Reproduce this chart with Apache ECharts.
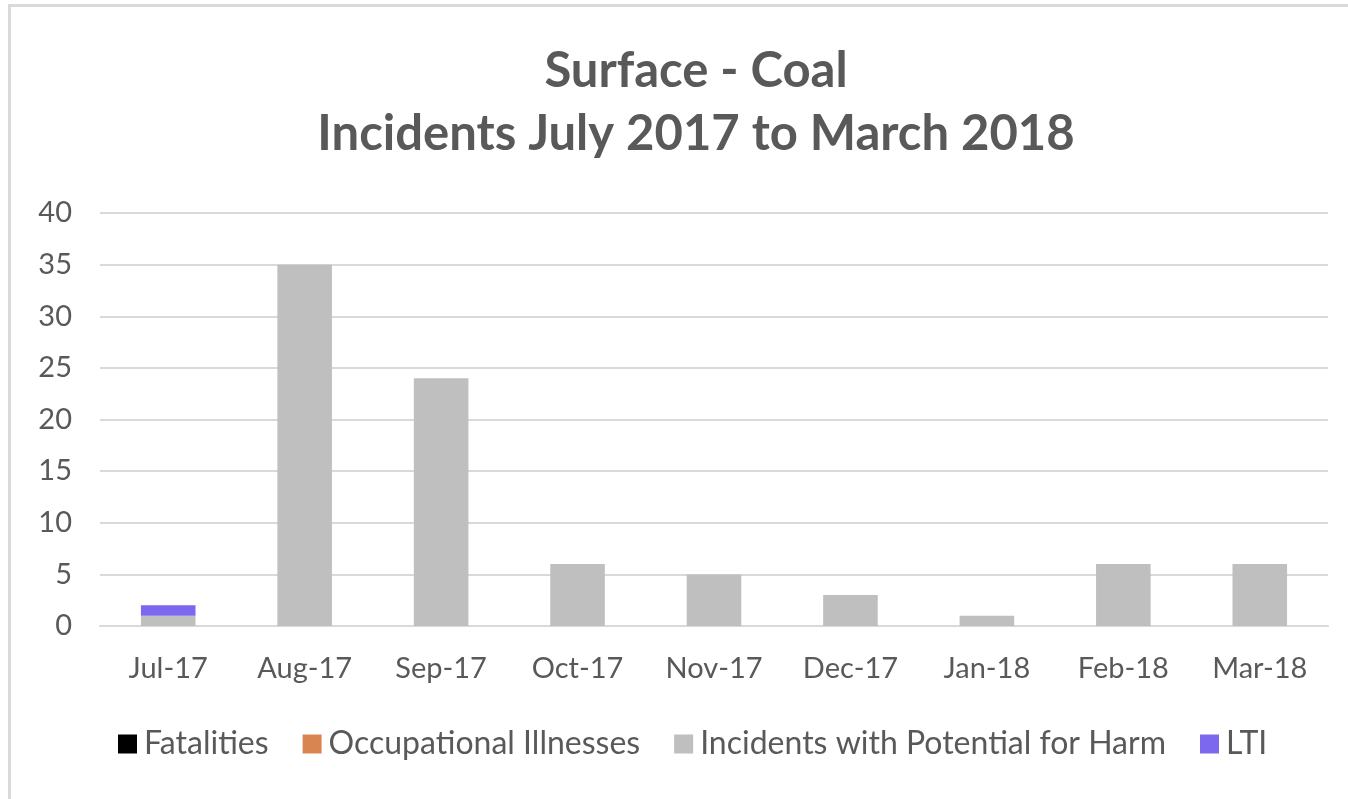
<!DOCTYPE html>
<html>
<head>
<meta charset="utf-8">
<script src="https://cdn.jsdelivr.net/npm/echarts@6/dist/echarts.min.js"></script>
<style>
html,body{margin:0;padding:0;background:#fff;overflow:hidden;}
#frame{position:absolute;left:8px;top:4px;width:1400px;height:900px;border:3px solid #d9d9d9;box-sizing:border-box;}
#main{position:absolute;left:0;top:0;width:1348px;height:799px;}
</style>
</head>
<body>
<div id="frame"></div>
<div id="main"></div>
<script>
// categories and series values
var months = ['Jul-17','Aug-17','Sep-17','Oct-17','Nov-17','Dec-17','Jan-18','Feb-18','Mar-18'];
var fatalities = [0,0,0,0,0,0,0,0,0];
var occupational = [0,0,0,0,0,0,0,0,0];
var potentialHarm = [1,35,24,6,5,3,1,6,6];
var lti = [1,0,0,0,0,0,0,0,0];

var textColor = '#595959';
var fontName = 'Lato, "Open Sans", sans-serif';

var dom = document.getElementById('main');
var myChart = echarts.init(dom);
var option = {
    animation: false,
    title: {
        text: 'Surface - Coal\nIncidents July 2017 to March 2018',
        left: 691,
        textAlign: 'center',
        top: 35,
        textStyle: {
            color: textColor,
            fontSize: 49,
            fontWeight: 'bold',
            fontFamily: fontName,
            lineHeight: 63
        }
    },
    legend: {
        bottom: 34,
        left: 113,
        itemWidth: 19,
        itemHeight: 19,
        itemGap: 34,
        icon: 'rect',
        textStyle: {color: textColor, fontSize: 32, fontFamily: fontName, padding: [0, 0, 0, 2]},
        data: ['Fatalities','Occupational Illnesses','Incidents with Potential for Harm','LTI']
    },
    grid: {left: 100, right: 20, top: 213, bottom: 173},
    xAxis: {
        type: 'category',
        data: months,
        axisTick: {show: false},
        axisLine: {lineStyle: {color: '#d9d9d9', width: 2}},
        axisLabel: {color: textColor, fontSize: 29, fontFamily: fontName, margin: 28}
    },
    yAxis: {
        type: 'value',
        min: 0,
        max: 40,
        interval: 5,
        axisLabel: {color: textColor, fontSize: 29, fontFamily: fontName, margin: 28},
        splitLine: {lineStyle: {color: '#d9d9d9', width: 2}}
    },
    series: [
        {name: 'Fatalities', type: 'bar', stack: 'all', barCategoryGap: '60%', data: fatalities, itemStyle: {color: '#000000'}},
        {name: 'Occupational Illnesses', type: 'bar', stack: 'all', data: occupational, itemStyle: {color: '#d88552'}},
        {name: 'Incidents with Potential for Harm', type: 'bar', stack: 'all', data: potentialHarm, itemStyle: {color: '#bfbfbf'}},
        {name: 'LTI', type: 'bar', stack: 'all', data: lti, itemStyle: {color: '#7b68ee'}}
    ]
};
myChart.setOption(option, true);
</script>
</body>
</html>
